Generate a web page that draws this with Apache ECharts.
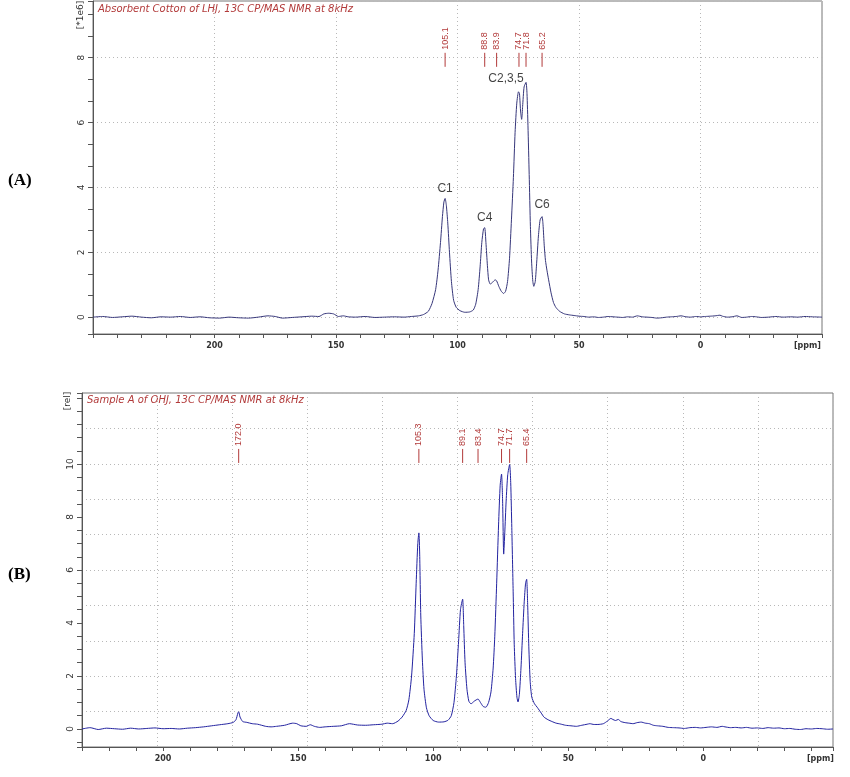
<!DOCTYPE html>
<html>
<head>
<meta charset="utf-8">
<script src="https://cdn.jsdelivr.net/npm/echarts@6/dist/echarts.min.js"></script>
<style>
html,body{margin:0;padding:0;background:#fff;}
#chart{width:850px;height:777px;}
</style>
</head>
<body>
<div id="chart"></div>
<script>
// ---------- DATA ----------
// Panel A: Absorbent Cotton of LHJ  [ppm, intensity *1e6]
const spectrumA = [
[250,0.00],[246,0.02],[242,-0.01],[238,0.01],[234,0.03],[230,0.00],[226,-0.02],[222,0.01],[218,0.00],[214,0.02],
[210,-0.01],[206,0.01],[202,-0.02],[198,-0.03],[194,0.00],[190,-0.02],[186,-0.03],[182,0.00],[178,0.04],[175,0.02],
[172,-0.03],[168,-0.01],[164,0.01],[160,0.03],[157,0.02],[155,0.10],[153,0.12],[151,0.10],[149,0.02],[147,0.04],
[145,0.01],[142,0.00],[138,0.02],[134,-0.01],[130,0.00],[126,0.01],[122,0.00],[119,0.02],[116,0.04],[114,0.08],
[112,0.18],[110.5,0.42],[109,0.85],[108,1.45],[107,2.30],[106.2,3.10],[105.6,3.55],[105.1,3.66],[104.6,3.45],[104,2.90],
[103.3,2.00],[102.5,1.10],[101.6,0.52],[100.5,0.30],[99,0.20],[97,0.15],[95,0.16],[93.5,0.22],[92.5,0.40],[91.5,0.85],
[90.7,1.55],[90,2.30],[89.3,2.72],[88.8,2.76],[88.3,2.30],[87.7,1.60],[87.2,1.15],[86.5,1.02],[85.5,1.08],[84.5,1.15],
[83.9,1.12],[83,0.95],[82,0.80],[81,0.73],[80.2,0.80],[79.4,1.10],[78.6,1.80],[77.8,3.00],[77,4.30],[76.3,5.70],
[75.6,6.60],[74.9,6.95],[74.5,6.90],[74,6.30],[73.6,6.10],[73.2,6.50],[72.6,7.10],[71.8,7.24],[71.4,6.90],[71,5.90],
[70.5,4.40],[70,2.80],[69.5,1.70],[69,1.10],[68.6,0.95],[68,1.10],[67.4,1.70],[66.7,2.50],[66,3.00],[65.2,3.10],
[64.8,2.85],[64.3,2.20],[63.8,1.75],[63.2,1.45],[62.5,1.15],[61.5,0.75],[60.5,0.45],[59.5,0.30],[58,0.18],[56,0.10],
[54,0.07],[52,0.05],[50,0.03],[48,0.02],[46,0.00],[44,0.01],[42,-0.01],[40,0.00],[38,0.02],[36,0.01],
[34,0.00],[32,-0.01],[30,0.01],[28,0.00],[26,0.04],[24,0.01],[22,0.00],[20,-0.01],[18,-0.03],[16,-0.02],
[14,0.00],[12,0.01],[10,0.02],[8,0.04],[6,0.01],[4,0.00],[2,0.02],[0,0.01],[-2,0.02],[-4,0.03],
[-6,0.04],[-8,0.06],[-9,0.03],[-11,0.00],[-13,0.01],[-15,0.04],[-17,-0.01],[-19,0.00],[-21,0.02],[-23,0.01],
[-25,-0.01],[-28,0.00],[-31,0.02],[-34,0.00],[-37,0.01],[-40,0.00],[-43,0.02],[-46,0.01],[-50,0.00]
];
const peaksA = [105.1, 88.8, 83.9, 74.7, 71.8, 65.2];
const assignNamesA = ['C1', 'C4', 'C2,3,5', 'C6'];
const assignPpmA = [105.1, 88.8, 71.8, 65.2];

// Panel B: Sample A of OHJ  [ppm, relative intensity]
const spectrumB = [
[230,0.00],[227,0.05],[224,-0.02],[221,0.03],[218,0.01],[215,-0.01],[212,0.03],[209,0.00],[206,0.02],[203,0.04],
[200,0.01],[197,0.02],[194,0.00],[191,0.03],[188,0.05],[185,0.08],[182,0.12],[179,0.16],[176,0.20],[174,0.25],
[173,0.35],[172.3,0.60],[172,0.65],[171.5,0.45],[170.5,0.28],[169,0.25],[167,0.20],[165,0.18],[162,0.10],[160,0.08],
[158,0.10],[155,0.14],[152,0.22],[150.5,0.20],[149,0.12],[147,0.10],[145.5,0.16],[144,0.10],[142,0.06],[140,0.08],
[137,0.10],[134,0.12],[131,0.20],[128,0.15],[125,0.14],[122,0.16],[119,0.18],[117,0.22],[115,0.20],[113,0.30],
[111.5,0.45],[110,0.70],[109,1.10],[108,2.00],[107,3.60],[106.3,5.50],[105.7,7.00],[105.3,7.40],[105,6.60],[104.6,4.30],
[104,2.60],[103.4,1.50],[102.5,0.80],[101.5,0.50],[100,0.32],[98,0.26],[96,0.27],[94.5,0.33],[93.3,0.50],[92.3,1.00],
[91.4,2.00],[90.6,3.30],[89.9,4.50],[89.1,4.90],[88.7,3.90],[88.2,2.50],[87.5,1.50],[86.8,1.05],[86,0.95],[84.8,1.05],
[83.4,1.13],[82.5,1.00],[81.5,0.85],[80.5,0.82],[79.5,1.00],[78.6,1.40],[77.8,2.30],[77.2,3.50],[76.5,5.50],[75.8,7.70],
[75.2,9.20],[74.7,9.62],[74.3,8.60],[73.9,6.60],[73.5,7.40],[73,8.60],[72.4,9.60],[71.7,9.98],[71.3,9.30],[70.9,7.60],
[70.4,5.20],[70,3.20],[69.5,1.90],[69,1.20],[68.6,1.02],[68.1,1.30],[67.5,2.30],[66.9,3.60],[66.3,4.80],[65.8,5.50],
[65.4,5.65],[65,4.60],[64.6,3.10],[64.1,1.80],[63.5,1.20],[62.5,0.95],[61.5,0.82],[60,0.60],[59,0.45],[57.5,0.35],
[56,0.28],[54.5,0.22],[53,0.19],[51,0.14],[49,0.12],[47,0.10],[45,0.14],[43,0.18],[42,0.20],[40.5,0.17],
[39,0.17],[37,0.20],[35.5,0.30],[34.2,0.40],[33.5,0.36],[32.5,0.32],[31.5,0.36],[30.5,0.28],[29,0.24],[27.5,0.22],
[26,0.20],[24.5,0.24],[23,0.26],[21.5,0.22],[20,0.20],[18.5,0.14],[17,0.12],[15,0.10],[13,0.06],[11,0.05],
[9,0.04],[7,0.02],[5,0.05],[3,0.06],[1,0.04],[-1,0.06],[-3,0.08],[-5,0.06],[-7,0.10],[-8,0.08],
[-10,0.05],[-12,0.06],[-14,0.04],[-16,0.06],[-18,0.03],[-20,0.04],[-22,0.02],[-24,0.05],[-26,0.03],[-28,0.04],
[-30,0.01],[-32,0.02],[-34,-0.01],[-36,-0.02],[-38,0.01],[-40,0.00],[-42,0.02],[-44,0.01],[-46,-0.01],[-48,0.00]
];
const peaksB = [172.0, 105.3, 89.1, 83.4, 74.7, 71.7, 65.4];

const yLabelsA = [0, 2, 4, 6, 8];
const yLabelsB = [0, 2, 4, 6, 8, 10];

const titleA = 'Absorbent Cotton of LHJ, 13C CP/MAS NMR at 8kHz';
const titleB = 'Sample A of OHJ, 13C CP/MAS NMR at 8kHz';

// ---------- HELPERS ----------
function heightAt(spec, ppm) {
  let best = spec[0], d = Infinity;
  for (const p of spec) { const dd = Math.abs(p[0] - ppm); if (dd < d) { d = dd; best = p; } }
  return best[1];
}
const RED = '#b23a3a';
const AXIS = '#555';
const GRIDC = '#b8b8b8';

function peakRenderer(labels) {
  return function (params, api) {
    const p = api.coord([api.value(0), api.value(1)]);
    return {
      type: 'group',
      children: [
        { type: 'line', shape: { x1: p[0], y1: p[1], x2: p[0], y2: p[1] - 14 },
          style: { stroke: RED, lineWidth: 1 } },
        { type: 'text', x: p[0], y: p[1] - 17, rotation: Math.PI / 2,
          style: { text: labels[params.dataIndex].toFixed(1), fill: RED, fontSize: 9,
                   fontFamily: 'Liberation Sans', align: 'left', verticalAlign: 'middle' } }
      ]
    };
  };
}

function xMain(gi, min, max, split) {
  return {
    gridIndex: gi, type: 'value', inverse: true, min: min, max: max, splitNumber: split,
    axisLine: { show: true, onZero: false, lineStyle: { color: AXIS, width: 1 } },
    axisTick: { show: true, length: 4, lineStyle: { color: AXIS } },
    minorTick: { show: true, splitNumber: 5, length: 4, lineStyle: { color: AXIS } },
    axisLabel: { show: true, showMinLabel: false, showMaxLabel: false, margin: 8,
                 color: '#333', fontSize: 8, fontWeight: 'bold', fontFamily: 'DejaVu Sans' },
    splitLine: { show: gi === 0, lineStyle: { type: [1, 3], color: GRIDC } }
  };
}
function yMain(gi, min, max, split, minorSplit, shown) {
  return {
    gridIndex: gi, type: 'value', min: min, max: max, splitNumber: split,
    axisLine: { show: true, onZero: false, lineStyle: { color: AXIS, width: 1 } },
    axisTick: { show: true, length: 5, lineStyle: { color: AXIS } },
    minorTick: { show: true, splitNumber: minorSplit, length: 5, lineStyle: { color: AXIS } },
    axisLabel: { show: true, showMinLabel: false, showMaxLabel: false, rotate: 90, margin: 7,
                 color: '#333', fontSize: 9, fontFamily: 'DejaVu Sans',
                 formatter: v => (shown.indexOf(v) >= 0 ? String(v) : '') },
    splitLine: { show: gi === 0, lineStyle: { type: [1, 3], color: GRIDC } }
  };
}
function helperAxis(gi) {
  return {
    gridIndex: gi, type: 'value', min: 0, max: 10, interval: 1,
    axisLine: { show: false }, axisTick: { show: false }, axisLabel: { show: false },
    splitLine: { show: true, lineStyle: { type: [1, 3], color: GRIDC } }
  };
}

const chart = echarts.init(document.getElementById('chart'), null, { renderer: 'canvas' });
const option = {
  animation: false,
  backgroundColor: '#fff',
  grid: [
    { left: 93, top: 1, right: 28, height: 333, show: true, borderColor: '#777', borderWidth: 1, backgroundColor: 'transparent' },
    { left: 82, top: 393, right: 17, height: 354, show: true, borderColor: '#777', borderWidth: 1, backgroundColor: 'transparent' }
  ],
  xAxis: [ xMain(0, -50, 250, 6), xMain(1, -48, 230, 6), helperAxis(1) ],
  yAxis: [ yMain(0, -0.52, 9.75, 5, 3, yLabelsA), yMain(1, -0.68, 12.68, 7, 4, yLabelsB), helperAxis(1) ],
  series: [
    { type: 'line', xAxisIndex: 0, yAxisIndex: 0, data: spectrumA, showSymbol: false, smooth: 0.2,
      lineStyle: { color: '#36367a', width: 1 }, silent: true, z: 3 },
    { type: 'line', xAxisIndex: 1, yAxisIndex: 1, data: spectrumB, showSymbol: false, smooth: 0.2,
      lineStyle: { color: '#2323a0', width: 1 }, silent: true, z: 3 },
    { type: 'custom', xAxisIndex: 0, yAxisIndex: 0, data: peaksA.map(p => [p, 7.72]),
      renderItem: peakRenderer(peaksA), silent: true, z: 4 },
    { type: 'custom', xAxisIndex: 1, yAxisIndex: 1, data: peaksB.map(p => [p, 10.04]),
      renderItem: peakRenderer(peaksB), silent: true, z: 4 },
    { type: 'scatter', xAxisIndex: 0, yAxisIndex: 0, symbolSize: 0, silent: true, z: 5,
      data: assignNamesA.map((n, i) => ({
        name: n, value: [assignPpmA[i], heightAt(spectrumA, assignPpmA[i])],
        label: n === 'C2,3,5' ? { offset: [-20, 2], distance: 0 } : (n === 'C6' ? { distance: 6 } : {})
      })),
      label: { show: true, position: 'top', distance: 4, formatter: '{b}', color: '#111',
               fontSize: 12, fontFamily: 'Liberation Sans' } }
  ],
  graphic: [
    { type: 'text', left: 8, top: 172, style: { text: '(A)', font: 'bold 17px "Liberation Serif"', fill: '#000' } },
    { type: 'text', left: 8, top: 566, style: { text: '(B)', font: 'bold 17px "Liberation Serif"', fill: '#000' } },
    { type: 'text', x: 98, y: 9, style: { text: titleA, font: 'italic 10px "DejaVu Sans"', fill: RED, verticalAlign: 'middle' } },
    { type: 'text', x: 87, y: 400, style: { text: titleB, font: 'italic 10px "DejaVu Sans"', fill: RED, verticalAlign: 'middle' } },
    { type: 'text', x: 81, y: 15, rotation: Math.PI / 2, style: { text: '[*1e6]', font: '9px "DejaVu Sans"', fill: '#333', align: 'center', verticalAlign: 'middle' } },
    { type: 'text', x: 68, y: 401, rotation: Math.PI / 2, style: { text: '[rel]', font: '9px "DejaVu Sans"', fill: '#333', align: 'center', verticalAlign: 'middle' } },
    { type: 'text', x: 821, y: 346, style: { text: '[ppm]', font: 'bold 8px "DejaVu Sans"', fill: '#333', align: 'right', verticalAlign: 'middle' } },
    { type: 'text', x: 834, y: 759, style: { text: '[ppm]', font: 'bold 8px "DejaVu Sans"', fill: '#333', align: 'right', verticalAlign: 'middle' } }
  ]
};
chart.setOption(option);
</script>
</body>
</html>
